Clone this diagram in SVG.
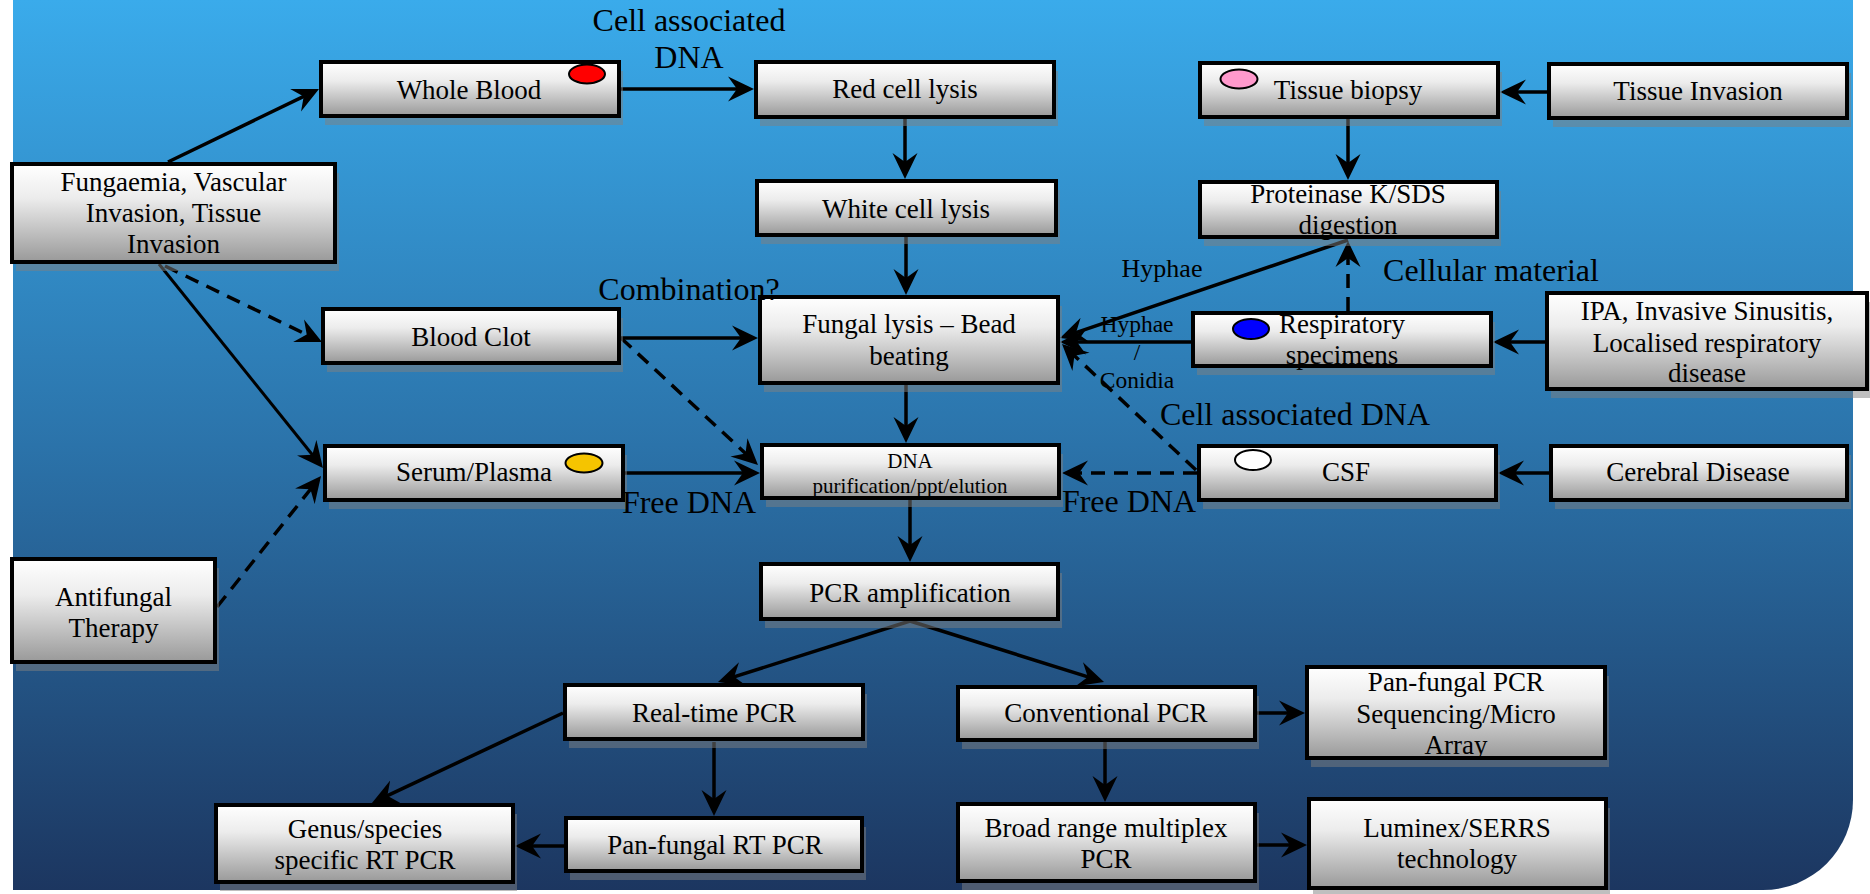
<svg xmlns="http://www.w3.org/2000/svg" width="1870" height="894" viewBox="0 0 1870 894">
<defs>
<linearGradient id="bg" x1="0" y1="0" x2="0" y2="1">
<stop offset="0" stop-color="#3aabeb"/>
<stop offset="0.5" stop-color="#2b73aa"/>
<stop offset="1" stop-color="#1c3660"/>
</linearGradient>
<linearGradient id="boxg" x1="0" y1="0" x2="0" y2="1">
<stop offset="0" stop-color="#ffffff"/>
<stop offset="0.35" stop-color="#ececec"/>
<stop offset="1" stop-color="#999999"/>
</linearGradient>
<marker id="ah" viewBox="0 0 26 26" refX="20" refY="13" markerWidth="26" markerHeight="26" markerUnits="userSpaceOnUse" orient="auto">
<path d="M0,0.5 L26,13 L0,25.5 L9,13 Z" fill="#000"/>
</marker>
<style>
.shadow{fill:#808080;opacity:.5}
.box{fill:url(#boxg);stroke:#000;stroke-width:4}
.t{font-family:"Liberation Serif","Times New Roman",serif;font-size:27px;fill:#000;text-anchor:middle}
.s{font-size:21px}
.lbl{font-family:"Liberation Serif","Times New Roman",serif;font-size:32px;fill:#000;text-anchor:middle}
.lbs{font-family:"Liberation Serif","Times New Roman",serif;font-size:26px;fill:#000;text-anchor:middle}
.lbx{font-family:"Liberation Serif","Times New Roman",serif;font-size:23.5px;fill:#000;text-anchor:middle}
.c{fill:none;stroke:#000;stroke-width:3.5;marker-end:url(#ah)}
.d{stroke-dasharray:14 9}
.dot{stroke:#000;stroke-width:2}
</style>
</defs>

<path d="M13,0 H1853 V800 A90,90 0 0 1 1763,890 H13 Z" fill="url(#bg)"/>

<g id="connectors">
<line class="c" x1="168" y1="162" x2="313.6" y2="91.6"/>
<line class="c" x1="621" y1="89" x2="748" y2="89"/>
<line class="c" x1="905" y1="119" x2="905" y2="173"/>
<line class="c" x1="906" y1="237" x2="906" y2="289"/>
<line class="c" x1="1547" y1="92" x2="1506" y2="92"/>
<line class="c" x1="1348" y1="119" x2="1348" y2="174"/>
<line class="c" x1="621" y1="338" x2="752" y2="338"/>
<line class="c d" x1="165" y1="266" x2="316.6" y2="339.4"/>
<line class="c" style="stroke-width:3" x1="159" y1="264" x2="319.2" y2="463.3"/>
<line class="c d" x1="217" y1="607" x2="317.3" y2="480.7"/>
<line class="c" x1="625" y1="473" x2="754" y2="473"/>
<line class="c d" x1="621" y1="338" x2="753.6" y2="460.9"/>
<line class="c" x1="906" y1="385" x2="906" y2="437"/>
<line class="c" x1="1191" y1="342" x2="1066" y2="342"/>
<line class="c" x1="1348" y1="240" x2="1065.7" y2="336.1"/>
<line class="c d" x1="1348" y1="311" x2="1348" y2="247"/>
<line class="c d" x1="1197" y1="473" x2="1068" y2="473"/>
<line class="c d" x1="1196" y1="470" x2="1066.4" y2="348.1"/>
<line class="c" x1="1545" y1="342" x2="1499" y2="342"/>
<line class="c" x1="1549" y1="473" x2="1504" y2="473"/>
<line class="c" x1="910" y1="500" x2="910" y2="556"/>
<line class="c" x1="910" y1="621" x2="723.7" y2="680.2"/>
<line class="c" x1="910" y1="621" x2="1098.3" y2="680.2"/>
<line class="c" x1="563" y1="713" x2="377.4" y2="800.4"/>
<line class="c" x1="714" y1="742" x2="714" y2="810"/>
<line class="c" x1="564" y1="846" x2="521" y2="846"/>
<line class="c" x1="1257" y1="713" x2="1299" y2="713"/>
<line class="c" x1="1105" y1="742" x2="1105" y2="796"/>
<line class="c" x1="1257" y1="845" x2="1301" y2="845"/>
</g>

<g id="n-fungaemia"><rect class="shadow" x="16" y="173" width="323" height="98"/><rect class="box" x="12" y="164" width="323" height="98"/>
<text class="t" x="173.5" y="191">Fungaemia, Vascular</text><text class="t" x="173.5" y="222">Invasion, Tissue</text><text class="t" x="173.5" y="253">Invasion</text></g>

<g id="n-wholeblood"><rect class="shadow" x="325" y="71" width="298" height="54"/><rect class="box" x="321" y="62" width="298" height="54"/>
<ellipse class="dot" cx="587" cy="74" rx="18" ry="9.5" fill="#ff0000"/>
<text class="t" x="469" y="99">Whole Blood</text></g>

<g id="n-redcell"><rect class="shadow" x="760" y="71" width="298" height="55"/><rect class="box" x="756" y="62" width="298" height="55"/>
<text class="t" x="905" y="98">Red cell lysis</text></g>

<g id="n-whitecell"><rect class="shadow" x="761" y="190" width="299" height="54"/><rect class="box" x="757" y="181" width="299" height="54"/>
<text class="t" x="906" y="218">White cell lysis</text></g>

<g id="n-tissuebiopsy"><rect class="shadow" x="1204" y="72" width="298" height="54"/><rect class="box" x="1200" y="63" width="298" height="54"/>
<ellipse class="dot" cx="1239" cy="79" rx="18.5" ry="9.5" fill="#ff99cc"/>
<text class="t" x="1348" y="99">Tissue biopsy</text></g>

<g id="n-tissueinvasion"><rect class="shadow" x="1553" y="73" width="298" height="54"/><rect class="box" x="1549" y="64" width="298" height="54"/>
<text class="t" x="1698" y="100">Tissue Invasion</text></g>

<g id="n-proteinase"><rect class="shadow" x="1204" y="191" width="297" height="55"/><rect class="box" x="1200" y="182" width="297" height="55"/>
<text class="t" x="1348" y="203">Proteinase K/SDS</text><text class="t" x="1348" y="234">digestion</text></g>

<g id="n-fungallysis"><rect class="shadow" x="764" y="306" width="298" height="86"/><rect class="box" x="760" y="297" width="298" height="86"/>
<text class="t" x="909" y="333">Fungal lysis – Bead</text><text class="t" x="909" y="365">beating</text></g>

<g id="n-bloodclot"><rect class="shadow" x="327" y="318" width="296" height="54"/><rect class="box" x="323" y="309" width="296" height="54"/>
<text class="t" x="471" y="346">Blood Clot</text></g>

<g id="n-serum"><rect class="shadow" x="329" y="455" width="298" height="54"/><rect class="box" x="325" y="446" width="298" height="54"/>
<ellipse class="dot" cx="584" cy="463" rx="18.5" ry="9.5" fill="#f5c400"/>
<text class="t" x="474" y="481">Serum/Plasma</text></g>

<g id="n-dnapurif"><rect class="shadow" x="766" y="454" width="297" height="53"/><rect class="box" x="762" y="445" width="297" height="53"/>
<text class="t s" x="910" y="468">DNA</text><text class="t s" x="910" y="493">purification/ppt/elution</text></g>

<g id="n-respiratory"><rect class="shadow" x="1197" y="322" width="298" height="53"/><rect class="box" x="1193" y="313" width="298" height="53"/>
<ellipse class="dot" cx="1251" cy="329" rx="18" ry="10" fill="#0000ff"/>
<text class="t" x="1342" y="333">Respiratory</text><text class="t" x="1342" y="364">specimens</text></g>

<g id="n-ipa"><rect class="shadow" x="1551" y="302" width="320" height="96"/><rect class="box" x="1547" y="293" width="320" height="96"/>
<text class="t" x="1707" y="320">IPA, Invasive Sinusitis,</text><text class="t" x="1707" y="352">Localised respiratory</text><text class="t" x="1707" y="382">disease</text></g>

<g id="n-csf"><rect class="shadow" x="1203" y="455" width="297" height="54"/><rect class="box" x="1199" y="446" width="297" height="54"/>
<ellipse class="dot" cx="1253" cy="460" rx="18" ry="10" fill="#ffffff"/>
<text class="t" x="1346" y="481">CSF</text></g>

<g id="n-cerebral"><rect class="shadow" x="1555" y="455" width="296" height="54"/><rect class="box" x="1551" y="446" width="296" height="54"/>
<text class="t" x="1698" y="481">Cerebral Disease</text></g>

<g id="n-antifungal"><rect class="shadow" x="16" y="568" width="203" height="103"/><rect class="box" x="12" y="559" width="203" height="103"/>
<text class="t" x="113.5" y="606">Antifungal</text><text class="t" x="113.5" y="637">Therapy</text></g>

<g id="n-pcramp"><rect class="shadow" x="765" y="573" width="297" height="55"/><rect class="box" x="761" y="564" width="297" height="55"/>
<text class="t" x="910" y="602">PCR amplification</text></g>

<g id="n-realtime"><rect class="shadow" x="569" y="694" width="298" height="54"/><rect class="box" x="565" y="685" width="298" height="54"/>
<text class="t" x="714" y="722">Real-time PCR</text></g>

<g id="n-panfungalrt"><rect class="shadow" x="570" y="827" width="296" height="53"/><rect class="box" x="566" y="818" width="296" height="53"/>
<text class="t" x="715" y="854">Pan-fungal RT PCR</text></g>

<g id="n-genus"><rect class="shadow" x="220" y="814" width="297" height="77"/><rect class="box" x="216" y="805" width="297" height="77"/>
<text class="t" x="365" y="838">Genus/species</text><text class="t" x="365" y="869">specific RT PCR</text></g>

<g id="n-conventional"><rect class="shadow" x="962" y="696" width="297" height="53"/><rect class="box" x="958" y="687" width="297" height="53"/>
<text class="t" x="1106" y="722">Conventional PCR</text></g>

<g id="n-panfungalpcr"><rect class="shadow" x="1311" y="676" width="298" height="91"/><rect class="box" x="1307" y="667" width="298" height="91"/>
<text class="t" x="1456" y="691">Pan-fungal PCR</text><text class="t" x="1456" y="723">Sequencing/Micro</text><text class="t" x="1456" y="754">Array</text></g>

<g id="n-broadrange"><rect class="shadow" x="962" y="813" width="297" height="77"/><rect class="box" x="958" y="804" width="297" height="77"/>
<text class="t" x="1106" y="837">Broad range multiplex</text><text class="t" x="1106" y="868">PCR</text></g>

<g id="n-luminex"><rect class="shadow" x="1313" y="808" width="297" height="89"/><rect class="box" x="1309" y="799" width="297" height="89"/>
<text class="t" x="1457" y="837">Luminex/SERRS</text><text class="t" x="1457" y="868">technology</text></g>

<g id="labels">
<text class="lbl" x="689" y="31">Cell associated</text>
<text class="lbl" x="689" y="68">DNA</text>
<text class="lbl" x="689" y="300">Combination?</text>
<text class="lbl" x="689" y="513">Free DNA</text>
<text class="lbl" x="1129" y="512">Free DNA</text>
<text class="lbl" x="1295" y="425">Cell associated DNA</text>
<text class="lbl" x="1491" y="281">Cellular material</text>
<text class="lbs" x="1162" y="277">Hyphae</text>
<text class="lbx" x="1137" y="332">Hyphae</text>
<text class="lbx" x="1137" y="360">/</text>
<text class="lbx" x="1137" y="388">Conidia</text>
</g>
</svg>
